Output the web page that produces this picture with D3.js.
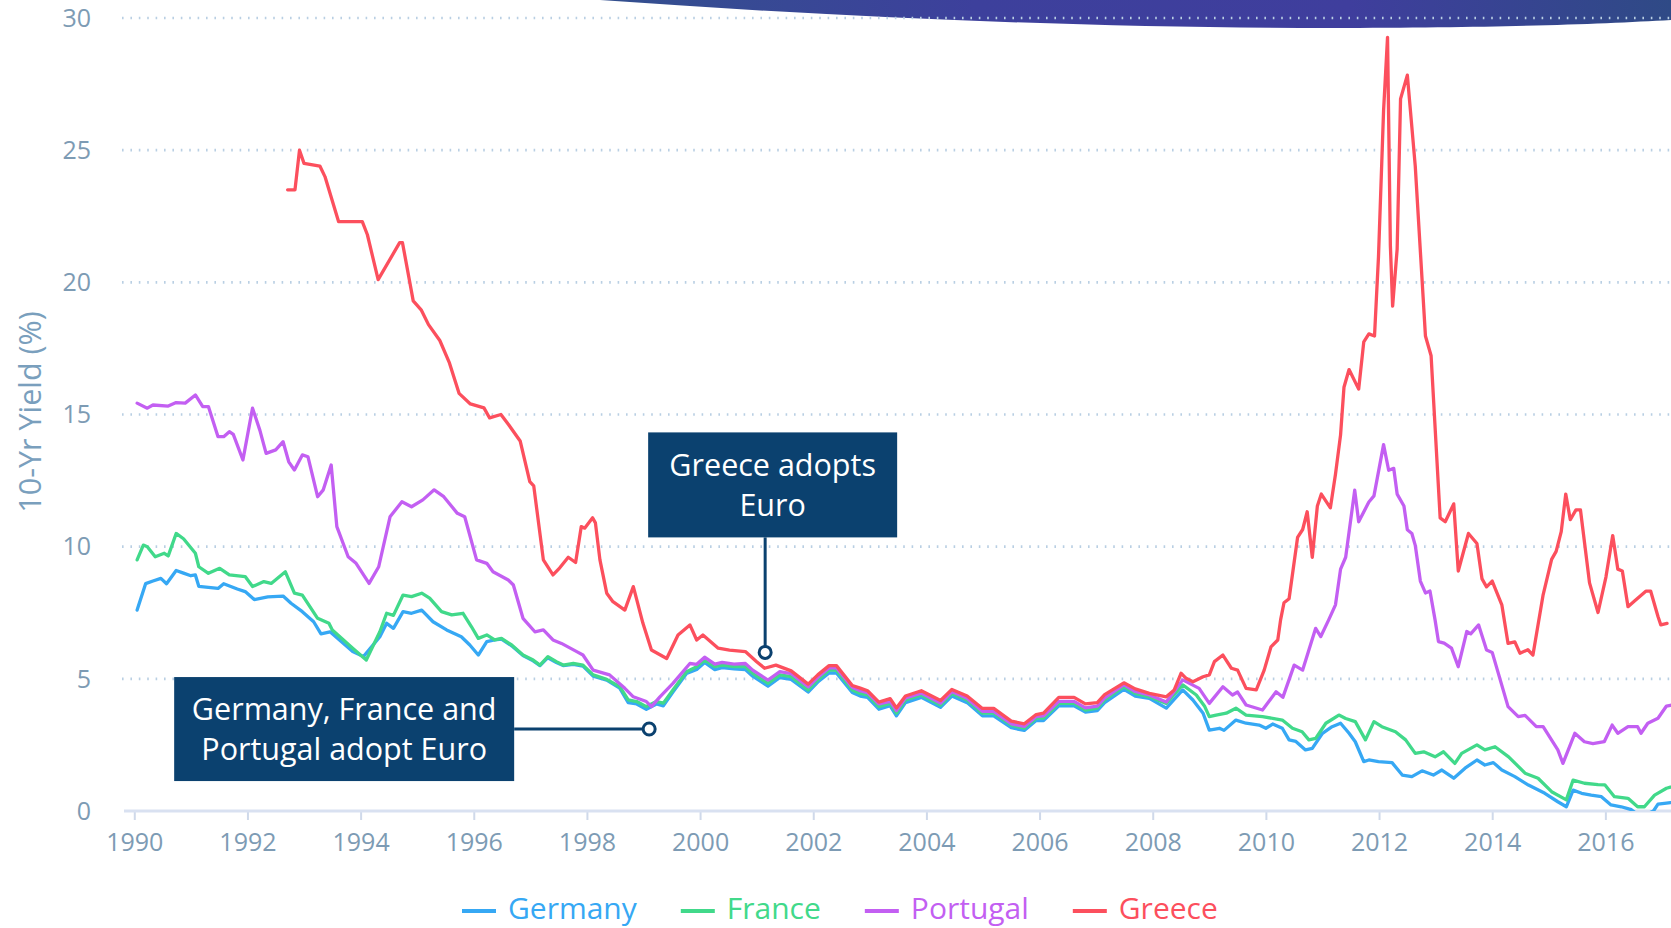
<!DOCTYPE html>
<html><head><meta charset="utf-8">
<script src="https://cdn.jsdelivr.net/npm/d3@7"></script>
<style>
html,body{margin:0;padding:0;background:#fff;overflow:hidden}
svg{display:block;font-family:"Open Sans",sans-serif}
</style>
</head><body>
<svg id="chart" width="1671" height="928"></svg>
<script>
// ---------------- data ----------------
const seriesNames = ["Germany", "France", "Portugal", "Greece"];
const seriesColors = ["#36a8f4", "#41d98a", "#c35ff2", "#fc4f5d"];

const germany = [[1990.05,7.6],[1990.2,8.6],[1990.33,8.7],[1990.47,8.8],[1990.57,8.6],[1990.74,9.1],[1990.87,9.0],[1991.0,8.9],[1991.08,8.93],[1991.14,8.5],[1991.48,8.42],[1991.58,8.6],[1991.82,8.4],[1991.96,8.3],[1992.12,8.0],[1992.36,8.1],[1992.63,8.13],[1992.77,7.86],[1992.97,7.54],[1993.17,7.16],[1993.3,6.7],[1993.46,6.78],[1993.86,6.03],[1994.05,5.84],[1994.34,6.59],[1994.46,7.1],[1994.58,6.91],[1994.75,7.54],[1994.9,7.48],[1995.08,7.6],[1995.28,7.16],[1995.52,6.85],[1995.78,6.59],[1995.93,6.28],[1996.08,5.9],[1996.23,6.41],[1996.37,6.47],[1996.49,6.5],[1996.67,6.25],[1996.87,5.88],[1997.05,5.68],[1997.17,5.5],[1997.31,5.8],[1997.46,5.62],[1997.58,5.5],[1997.76,5.55],[1997.93,5.48],[1998.11,5.1],[1998.35,4.95],[1998.58,4.65],[1998.73,4.1],[1998.88,4.05],[1999.05,3.85],[1999.23,4.05],[1999.35,3.98],[1999.52,4.5],[1999.76,5.2],[1999.94,5.35],[2000.08,5.62],[2000.26,5.35],[2000.39,5.42],[2000.6,5.38],[2000.8,5.35],[2000.93,5.1],[2001.2,4.72],[2001.41,5.05],[2001.61,4.98],[2001.91,4.5],[2002.08,4.88],[2002.28,5.22],[2002.41,5.22],[2002.69,4.48],[2002.83,4.35],[2002.96,4.3],[2003.16,3.85],[2003.36,3.98],[2003.47,3.6],[2003.63,4.1],[2003.91,4.3],[2004.25,3.92],[2004.45,4.35],[2004.72,4.1],[2004.99,3.6],[2005.19,3.6],[2005.5,3.15],[2005.73,3.05],[2005.94,3.42],[2006.07,3.42],[2006.34,3.98],[2006.61,3.98],[2006.81,3.74],[2007.02,3.8],[2007.15,4.1],[2007.49,4.6],[2007.69,4.35],[2007.94,4.26],[2008.24,3.89],[2008.53,4.58],[2008.71,4.2],[2008.89,3.7],[2009.0,3.06],[2009.18,3.13],[2009.26,3.05],[2009.47,3.44],[2009.65,3.32],[2009.88,3.25],[2010.0,3.13],[2010.12,3.29],[2010.29,3.13],[2010.41,2.69],[2010.53,2.63],[2010.7,2.31],[2010.82,2.37],[2011.0,2.94],[2011.17,3.19],[2011.32,3.32],[2011.47,2.94],[2011.58,2.62],[2011.73,1.87],[2011.82,1.93],[2011.99,1.87],[2012.23,1.83],[2012.41,1.36],[2012.58,1.3],[2012.76,1.52],[2012.96,1.36],[2013.11,1.55],[2013.32,1.24],[2013.52,1.62],[2013.73,1.93],[2013.87,1.74],[2014.02,1.83],[2014.17,1.55],[2014.4,1.3],[2014.64,0.98],[2014.93,0.67],[2015.16,0.35],[2015.31,0.16],[2015.43,0.79],[2015.58,0.67],[2015.75,0.6],[2015.93,0.54],[2016.1,0.23],[2016.28,0.16],[2016.46,0.05],[2016.55,-0.1],[2016.7,-0.15],[2016.85,0.0],[2016.93,0.26],[2017.08,0.3],[2017.15,0.32]];

const france = [[1990.05,9.5],[1990.16,10.06],[1990.23,10.0],[1990.37,9.62],[1990.53,9.75],[1990.6,9.65],[1990.74,10.5],[1990.87,10.3],[1991.08,9.75],[1991.14,9.24],[1991.31,8.99],[1991.51,9.18],[1991.68,8.93],[1991.96,8.87],[1992.09,8.49],[1992.29,8.68],[1992.42,8.61],[1992.67,9.05],[1992.83,8.24],[1992.97,8.17],[1993.24,7.29],[1993.44,7.1],[1993.5,6.85],[1993.86,6.16],[1994.1,5.71],[1994.34,6.78],[1994.46,7.48],[1994.58,7.4],[1994.75,8.17],[1994.9,8.11],[1995.08,8.24],[1995.22,8.05],[1995.43,7.54],[1995.61,7.42],[1995.81,7.48],[1995.96,6.97],[1996.08,6.53],[1996.23,6.66],[1996.37,6.47],[1996.49,6.53],[1996.67,6.28],[1996.87,5.9],[1997.05,5.71],[1997.17,5.52],[1997.31,5.84],[1997.46,5.65],[1997.58,5.52],[1997.76,5.58],[1997.93,5.52],[1998.11,5.15],[1998.35,4.98],[1998.58,4.7],[1998.73,4.2],[1998.88,4.14],[1999.05,3.95],[1999.23,4.14],[1999.35,4.08],[1999.52,4.58],[1999.76,5.27],[1999.94,5.46],[2000.08,5.71],[2000.26,5.46],[2000.39,5.52],[2000.6,5.46],[2000.8,5.46],[2000.93,5.21],[2001.2,4.83],[2001.41,5.15],[2001.61,5.08],[2001.91,4.58],[2002.08,4.96],[2002.28,5.33],[2002.41,5.33],[2002.69,4.58],[2002.83,4.45],[2002.96,4.39],[2003.16,3.95],[2003.36,4.07],[2003.47,3.7],[2003.63,4.2],[2003.91,4.39],[2004.25,4.01],[2004.45,4.45],[2004.72,4.2],[2004.99,3.7],[2005.19,3.7],[2005.5,3.25],[2005.73,3.13],[2005.94,3.51],[2006.07,3.51],[2006.34,4.07],[2006.61,4.07],[2006.81,3.82],[2007.02,3.89],[2007.15,4.2],[2007.49,4.7],[2007.69,4.45],[2007.94,4.32],[2008.24,4.07],[2008.53,4.77],[2008.77,4.39],[2008.92,3.95],[2009.0,3.57],[2009.12,3.63],[2009.3,3.7],[2009.47,3.89],[2009.65,3.63],[2009.94,3.57],[2010.29,3.44],[2010.47,3.13],[2010.64,3.0],[2010.76,2.69],[2010.88,2.75],[2011.06,3.32],[2011.29,3.63],[2011.41,3.5],[2011.58,3.38],[2011.76,2.69],[2011.91,3.38],[2012.05,3.19],[2012.29,3.0],[2012.47,2.69],[2012.64,2.18],[2012.79,2.24],[2012.99,2.05],[2013.14,2.24],[2013.34,1.8],[2013.46,2.18],[2013.73,2.5],[2013.87,2.31],[2014.05,2.43],[2014.29,2.05],[2014.58,1.43],[2014.81,1.24],[2015.05,0.73],[2015.31,0.42],[2015.43,1.17],[2015.63,1.05],[2015.87,1.0],[2015.99,0.99],[2016.16,0.54],[2016.4,0.48],[2016.57,0.16],[2016.69,0.16],[2016.87,0.6],[2017.08,0.86],[2017.15,0.9]];

const portugal = [[1990.05,15.43],[1990.23,15.24],[1990.33,15.36],[1990.6,15.32],[1990.74,15.45],[1990.9,15.43],[1991.08,15.74],[1991.21,15.3],[1991.31,15.3],[1991.48,14.16],[1991.58,14.16],[1991.68,14.35],[1991.75,14.25],[1991.92,13.28],[1992.09,15.24],[1992.22,14.4],[1992.33,13.53],[1992.5,13.66],[1992.63,13.97],[1992.73,13.21],[1992.83,12.9],[1992.97,13.47],[1993.07,13.4],[1993.24,11.89],[1993.34,12.15],[1993.48,13.09],[1993.58,10.76],[1993.78,9.62],[1993.92,9.37],[1994.15,8.61],[1994.32,9.24],[1994.52,11.13],[1994.73,11.7],[1994.9,11.51],[1995.1,11.77],[1995.3,12.15],[1995.47,11.89],[1995.71,11.26],[1995.84,11.13],[1996.05,9.5],[1996.23,9.37],[1996.34,9.05],[1996.61,8.74],[1996.7,8.55],[1996.87,7.29],[1997.08,6.78],[1997.23,6.85],[1997.4,6.47],[1997.55,6.34],[1997.82,6.03],[1997.93,5.9],[1998.11,5.33],[1998.4,5.15],[1998.67,4.64],[1998.82,4.32],[1999.05,4.14],[1999.14,3.95],[1999.29,4.32],[1999.52,4.83],[1999.82,5.58],[1999.94,5.55],[2000.08,5.82],[2000.26,5.56],[2000.39,5.62],[2000.6,5.56],[2000.8,5.58],[2000.93,5.33],[2001.2,4.95],[2001.41,5.27],[2001.61,5.2],[2001.91,4.7],[2002.08,5.06],[2002.28,5.42],[2002.41,5.42],[2002.69,4.68],[2002.83,4.55],[2002.96,4.48],[2003.16,4.05],[2003.36,4.15],[2003.47,3.8],[2003.63,4.28],[2003.91,4.46],[2004.25,4.08],[2004.45,4.52],[2004.72,4.27],[2004.99,3.77],[2005.19,3.77],[2005.5,3.3],[2005.73,3.2],[2005.94,3.58],[2006.07,3.6],[2006.34,4.15],[2006.61,4.15],[2006.81,3.9],[2007.02,3.97],[2007.15,4.28],[2007.49,4.78],[2007.69,4.52],[2007.94,4.39],[2008.24,4.12],[2008.53,4.96],[2008.82,4.64],[2009.0,4.07],[2009.24,4.7],[2009.41,4.39],[2009.5,4.5],[2009.65,4.01],[2009.94,3.82],[2010.18,4.51],[2010.3,4.3],[2010.5,5.52],[2010.65,5.33],[2010.76,6.09],[2010.88,6.91],[2010.97,6.6],[2011.11,7.23],[2011.23,7.8],[2011.32,9.15],[2011.41,9.6],[2011.57,12.14],[2011.64,10.94],[2011.82,11.69],[2011.91,11.92],[2012.08,13.86],[2012.17,12.89],[2012.26,12.96],[2012.32,11.99],[2012.44,11.54],[2012.5,10.64],[2012.58,10.5],[2012.64,10.05],[2012.73,8.7],[2012.82,8.25],[2012.9,8.32],[2012.99,7.23],[2013.05,6.41],[2013.15,6.35],[2013.28,6.16],[2013.4,5.46],[2013.55,6.79],[2013.62,6.7],[2013.76,7.04],[2013.9,6.09],[2014.0,6.0],[2014.28,3.95],[2014.46,3.57],[2014.58,3.62],[2014.78,3.19],[2014.9,3.19],[2015.16,2.31],[2015.25,1.8],[2015.46,2.94],[2015.63,2.62],[2015.78,2.55],[2015.98,2.62],[2016.12,3.25],[2016.22,2.94],[2016.4,3.19],[2016.57,3.19],[2016.63,2.94],[2016.75,3.32],[2016.93,3.51],[2017.08,3.97],[2017.15,4.0]];

const greece = [[1992.71,23.5],[1992.84,23.5],[1992.92,25.0],[1993.0,24.5],[1993.28,24.4],[1993.37,24.0],[1993.61,22.3],[1994.03,22.3],[1994.12,21.8],[1994.31,20.1],[1994.69,21.5],[1994.74,21.5],[1994.93,19.3],[1995.07,18.96],[1995.2,18.4],[1995.4,17.8],[1995.57,16.95],[1995.74,15.8],[1995.94,15.4],[1996.18,15.25],[1996.28,14.87],[1996.48,15.0],[1996.62,14.6],[1996.82,14.0],[1996.99,12.46],[1997.06,12.3],[1997.23,9.5],[1997.4,8.93],[1997.52,9.2],[1997.67,9.6],[1997.8,9.4],[1997.9,10.76],[1997.96,10.7],[1998.1,11.09],[1998.15,10.9],[1998.23,9.5],[1998.35,8.24],[1998.46,7.92],[1998.67,7.6],[1998.82,8.49],[1998.99,7.1],[1999.14,6.09],[1999.41,5.77],[1999.61,6.66],[1999.82,7.04],[1999.94,6.47],[2000.05,6.66],[2000.32,6.16],[2000.52,6.09],[2000.8,6.03],[2001.0,5.65],[2001.14,5.4],[2001.34,5.52],[2001.61,5.3],[2001.91,4.8],[2002.08,5.15],[2002.28,5.5],[2002.41,5.5],[2002.69,4.75],[2002.83,4.65],[2002.96,4.55],[2003.16,4.12],[2003.36,4.25],[2003.47,3.9],[2003.63,4.35],[2003.91,4.55],[2004.25,4.18],[2004.45,4.6],[2004.72,4.35],[2004.99,3.88],[2005.19,3.88],[2005.5,3.4],[2005.73,3.3],[2005.94,3.65],[2006.07,3.7],[2006.34,4.3],[2006.61,4.3],[2006.81,4.05],[2007.02,4.1],[2007.15,4.4],[2007.49,4.85],[2007.69,4.62],[2007.94,4.45],[2008.24,4.32],[2008.38,4.58],[2008.5,5.21],[2008.59,5.02],[2008.71,4.89],[2008.89,5.08],[2009.0,5.15],[2009.09,5.65],[2009.24,5.9],[2009.39,5.4],[2009.5,5.33],[2009.65,4.64],[2009.83,4.58],[2009.97,5.33],[2010.09,6.21],[2010.21,6.47],[2010.26,7.23],[2010.32,7.88],[2010.41,8.03],[2010.56,10.35],[2010.65,10.65],[2010.73,11.32],[2010.82,9.6],[2010.91,11.54],[2010.98,11.99],[2011.14,11.47],[2011.23,12.74],[2011.32,14.23],[2011.38,16.03],[2011.47,16.7],[2011.64,15.96],[2011.73,17.75],[2011.82,18.05],[2011.92,17.97],[2011.99,20.96],[2012.08,26.5],[2012.15,29.27],[2012.2,21.4],[2012.24,19.1],[2012.32,21.26],[2012.38,26.94],[2012.5,27.84],[2012.64,24.4],[2012.82,17.97],[2012.92,17.22],[2013.08,11.09],[2013.17,10.94],[2013.32,11.62],[2013.4,9.08],[2013.58,10.5],[2013.73,10.12],[2013.82,8.78],[2013.9,8.48],[2014.0,8.7],[2014.17,7.8],[2014.28,6.34],[2014.4,6.4],[2014.49,5.97],[2014.63,6.1],[2014.72,5.9],[2014.9,8.18],[2015.05,9.52],[2015.13,9.82],[2015.22,10.57],[2015.3,11.99],[2015.38,11.02],[2015.48,11.39],[2015.56,11.39],[2015.72,8.63],[2015.87,7.51],[2016.01,8.85],[2016.13,10.42],[2016.22,9.15],[2016.3,9.08],[2016.4,7.73],[2016.52,7.95],[2016.72,8.32],[2016.8,8.32],[2016.93,7.36],[2016.98,7.04],[2017.09,7.1]];

const seriesData = [germany, france, portugal, greece];
const xTickValues = [1990,1992,1994,1996,1998,2000,2002,2004,2006,2008,2010,2012,2014,2016];
const yTickValues = [0,5,10,15,20,25,30];
const yAxisTitle = "10-Yr Yield (%)";
const annotationLabels = [["Germany, France and","Portugal adopt Euro"],["Greece adopts","Euro"]];
const annotationDates = [1999.1, 2001.15];
const annotationValues = [3.1, 6.0];

// ---------------- layout ----------------
const W = 1671, H = 928;
const svg = d3.select("#chart");
const x = d3.scaleLinear().domain([1989.85, 2017.16]).range([125.8, 1671]);
const y = d3.scaleLinear().domain([0, 30]).range([811, 18]);

// decorative banner shape at top
const defs = svg.append("defs");
const grad = defs.append("linearGradient").attr("id","bannerGrad").attr("x1","0%").attr("x2","100%");
grad.append("stop").attr("offset","0%").attr("stop-color","#33508e");
grad.append("stop").attr("offset","35%").attr("stop-color","#3d409c");
grad.append("stop").attr("offset","70%").attr("stop-color","#3f3e9d");
grad.append("stop").attr("offset","100%").attr("stop-color","#2f4a86");
svg.append("path")
  .attr("d","M600,0 C850,18 1100,28 1330,28 C1500,28 1600,24 1671,20 L1671,0 Z")
  .attr("fill","url(#bannerGrad)");

defs.append("clipPath").attr("id","plotClip")
  .append("rect").attr("x",120).attr("y",0).attr("width",W-120).attr("height",811);

// grid lines
svg.append("g").selectAll("line").data(yTickValues.filter(d => d > 0)).join("line")
  .attr("x1",122).attr("x2",W)
  .attr("y1",d => y(d)).attr("y2",d => y(d))
  .attr("stroke","#b9cfe3").attr("stroke-width",2.6)
  .attr("stroke-dasharray","1.6,6.8");

// y labels
svg.append("g").selectAll("text").data(yTickValues).join("text")
  .attr("x",91).attr("y",d => y(d)).attr("dy","0.35em")
  .attr("text-anchor","end").attr("font-size",25).attr("fill","#7d9bb4")
  .text(d => d);

// y title
svg.append("text")
  .attr("transform","translate(30,412) rotate(-90)")
  .attr("dy","0.35em").attr("text-anchor","middle")
  .attr("font-size",30.5).attr("fill","#7a9fbd")
  .text(yAxisTitle);

// x axis
const xAxis = d3.axisBottom(x).tickValues(xTickValues).tickFormat(d3.format("d")).tickSize(9).tickPadding(13);
const gx = svg.append("g").attr("transform","translate(0,811)").call(xAxis);
gx.select(".domain").remove();
gx.selectAll(".tick line").attr("stroke","#cfd9ea").attr("stroke-width",2);
gx.selectAll(".tick text").attr("font-size",25).attr("fill","#7d9bb4").attr("font-family","Open Sans");
svg.append("line").attr("x1",124).attr("x2",W).attr("y1",811).attr("y2",811)
  .attr("stroke","#d9e1f1").attr("stroke-width",3);

// series lines
const line = d3.line().x(d => x(d[0])).y(d => y(d[1]));
const gLines = svg.append("g").attr("clip-path","url(#plotClip)");
seriesData.forEach((s,i) => {
  gLines.append("path").datum(s)
    .attr("d", line).attr("fill","none")
    .attr("stroke", seriesColors[i]).attr("stroke-width",3.3)
    .attr("stroke-linejoin","round").attr("stroke-linecap","round");
});

// annotations
const navy = "#0b416f";
const boxes = [
  {w:340, h:104, dx:-475, dy:-52, lineFrom:"left"},
  {w:249, h:105, dx:-117, dy:-220, lineFrom:"top"}
];
annotationLabels.forEach((lbl,i) => {
  const ax = x(annotationDates[i]), ay = y(annotationValues[i]);
  const b = boxes[i];
  const bx = ax + b.dx, by = ay + b.dy;
  const g = svg.append("g");
  if (b.lineFrom === "left") {
    g.append("line").attr("x1",bx+b.w).attr("x2",ax).attr("y1",ay).attr("y2",ay)
      .attr("stroke",navy).attr("stroke-width",3);
  } else {
    g.append("line").attr("x1",ax).attr("x2",ax).attr("y1",by+b.h).attr("y2",ay)
      .attr("stroke",navy).attr("stroke-width",3);
  }
  g.append("rect").attr("x",bx).attr("y",by).attr("width",b.w).attr("height",b.h).attr("fill",navy);
  lbl.forEach((t,j) => {
    g.append("text").attr("x",bx+b.w/2).attr("y",by + b.h/2 + (j-0.5)*40).attr("dy","0.35em")
      .attr("text-anchor","middle").attr("font-size",30.5).attr("fill","#ffffff").text(t);
  });
  g.append("circle").attr("cx",ax).attr("cy",ay).attr("r",6)
    .attr("fill","#ffffff").attr("stroke",navy).attr("stroke-width",3);
});

// legend
const legend = svg.append("g");
let lx = 462;
seriesNames.forEach((n,i) => {
  legend.append("line").attr("x1",lx).attr("x2",lx+34).attr("y1",911).attr("y2",911)
    .attr("stroke",seriesColors[i]).attr("stroke-width",4);
  const t = legend.append("text").attr("x",lx+46).attr("y",919)
    .attr("font-size",30).attr("fill",seriesColors[i]).text(n);
  lx = lx + 46 + t.node().getComputedTextLength() + 44;
});
</script>
</body></html>
